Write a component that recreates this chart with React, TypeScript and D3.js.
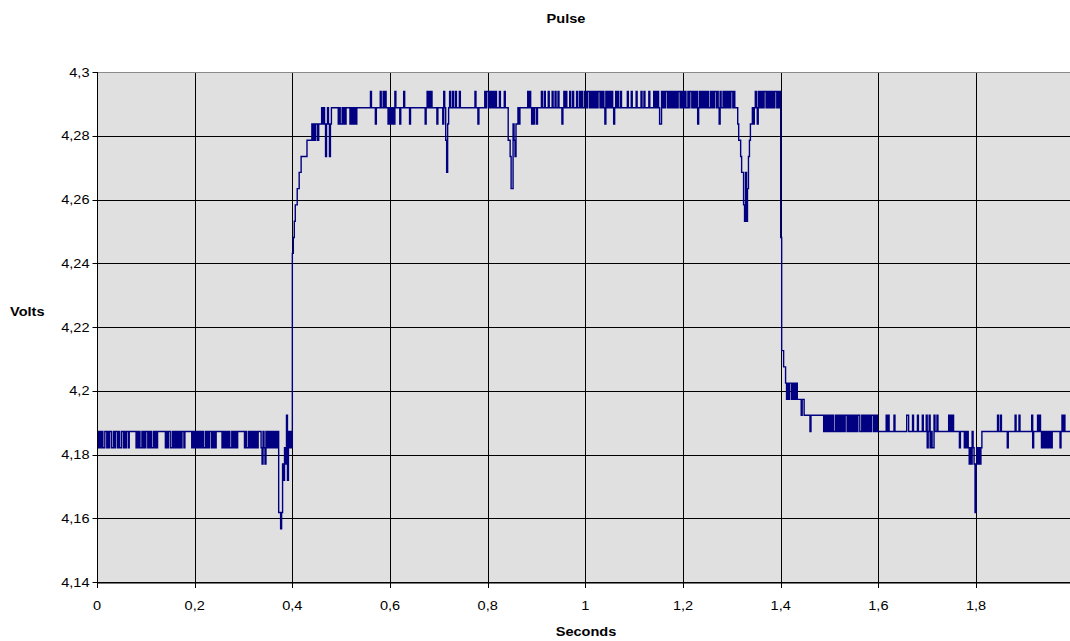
import React from 'react';
import * as d3 from 'd3';

const titleText = 'Pulse';
const xAxisTitle = 'Seconds';
const yAxisTitle = 'Volts';

const xTicks = [0, 0.2, 0.4, 0.6, 0.8, 1, 1.2, 1.4, 1.6, 1.8, 2];
const yTicks = [4.14, 4.16, 4.18, 4.2, 4.22, 4.24, 4.26, 4.28, 4.3];

// quantised voltage levels of the trace, indexed by base-36 code (0..r)
const levelVolts = [
  4.1567, 4.1618, 4.1669, 4.1719, 4.177, 4.1821, 4.1872, 4.1923, 4.1973, 4.2024,
  4.2075, 4.2126, 4.2177, 4.2227, 4.2278, 4.2329, 4.238, 4.2431, 4.2481, 4.2532,
  4.2583, 4.2634, 4.2685, 4.2735, 4.2786, 4.2837, 4.2888, 4.2939,
];

const sampleSeconds = 0.002;
const segmentSeconds = 0.2;

// samples, one array per 0.2 s grid cell, one code per 2 ms
const trace0 = ['5656565566', '5656655656', '6565566565', '6656666666', '5656556565', '6656565565', '6566666666', '5656655656', '5656565665', '6666666565'];
const trace1 = ['6565656565', '5656566565', '6566666656', '5656565565', '6565666666', '6565565656', '5656566654', '6546565656', '5656561101', '4354736565'];
const trace2 = ['hijkkllmmn', 'nnnnnooooo', 'popoppoppp', 'qpqpnpqpnp', 'qqqqqqqpqp', 'pqpqpqqqqp', 'qpqpqpqqqq', 'qqqqqqqqqq', 'rqqqqpqqqq', 'rqqrqrqqpq'];
const trace3 = ['pqpqprqqqq', 'pqqqrqqqqq', 'pqqqqqqqqq', 'qqqqqqpqrq', 'rqrqqqqqpq', 'qqqqprqomp', 'qrqqrqqrqq', 'qrqqqqqqqq', 'qqqqqqqrqq', 'pqqqqqqrqr'];
const trace4 = ['rqrqrqrqrq', 'qqrqqqqrqq', 'qoonllponp', 'pqpqqqqqqq', 'qrqrqpqpqq', 'pqqqqrqqrq', 'qqrqqqrqqr', 'qqrqqqpqrq', 'rqqqrqqrqq', 'qrqqrqrqqr'];
const trace5 = ['rqrrqrqrqr', 'qrqrrqrqrq', 'prqrqrqrqp', 'qrqrqqrqqq', 'qqqrqqqrqq', 'qqrqqqqrqq', 'rqqqqrqqqq', 'rqrqrqpprq', 'rqrrqrqrqr', 'qrqrqrrqrq'];
const trace6 = ['rqrqqrqrrq', 'rqrqrpqrqr', 'qrqrqrqqrq', 'rqrrqrqprq', 'qrqrqrqrqr', 'rqrqqqpoon', 'mmkjmjlnop', 'pqpqrqprqr', 'qrqrrqrqrq', 'rqrqrrqrqr'];
const trace7 = ['ibbaa98989', '9898989888', '8788777777', '6777777777', '7777676767', '6767667676', '7676767767', '6767676767', '7667676767', '6767767676'];
const trace8 = ['6666666676', '7666667666', '6666666667', '7666676666', '7666676667', '5675655766', '7666666666', '6676767666', '6665666656', '5654546541'];
const trace9 = ['4545456666', '6666666666', '6676676666', '6656666666', '7666766666', '6666666756', '6667676565', '6565656566', '6666665676', '7666666666'];

const traces = [trace0, trace1, trace2, trace3, trace4, trace5, trace6, trace7, trace8, trace9];

const W = 1070;
const H = 641;
const plotLeft = 97;
const plotRight = 1073.7;
const plotTop = 72;
const plotBottom = 582;

const lineColor = '#000080';
const plotBg = '#e0e0e0';
const font = '"Liberation Sans", Arial, sans-serif';

const fmt = (v: number) => String(+v.toFixed(2)).replace('.', ',');

function buildPoints(): [number, number][] {
  const pts: [number, number][] = [];
  traces.forEach((seg, s) => {
    const codes = seg.join('');
    for (let i = 0; i < codes.length; i++) {
      pts.push([s * segmentSeconds + i * sampleSeconds, levelVolts[parseInt(codes[i], 36)]]);
    }
  });
  pts.push([2, pts[pts.length - 1][1]]);
  return pts;
}

export default function App() {
  const xs = d3.scaleLinear().domain([0, 2]).range([plotLeft, plotRight]);
  const ys = d3.scaleLinear().domain([4.14, 4.3]).range([plotBottom, plotTop]);
  const px = (v: number) => Math.round(xs(v)) + 0.5;
  const py = (v: number) => Math.round(ys(v)) + 0.5;

  const pts = buildPoints();
  const line = d3
    .line<[number, number]>()
    .x((d) => xs(d[0]))
    .y((d) => ys(d[1]))
    .curve(d3.curveStepAfter);

  const sx = 1.12;
  const T = (x: number, y: number, txt: string, anchor: string, size: number, bold = false, key?: string) => (
    <text
      key={key}
      transform={`translate(${x},${y}) scale(${sx},1)`}
      textAnchor={anchor as any}
      fontFamily={font}
      fontSize={size}
      fontWeight={bold ? 'bold' : 'normal'}
      fill="#000"
    >
      {txt}
    </text>
  );

  return (
    <svg
      width={W}
      height={H}
      style={{ position: 'absolute', left: 0, top: 0, display: 'block', background: '#fff' }}
    >
      <rect x={plotLeft} y={plotTop} width={plotRight - plotLeft + 5} height={plotBottom - plotTop} fill={plotBg} />
      {/* vertical grid */}
      {xTicks.slice(1).map((t) => (
        <line key={'vg' + t} x1={px(t)} x2={px(t)} y1={plotTop} y2={plotBottom} stroke="#000" strokeWidth={1} />
      ))}
      {/* horizontal grid */}
      {yTicks.slice(1, -1).map((v) => (
        <line key={'hg' + v} x1={plotLeft} x2={W} y1={py(v)} y2={py(v)} stroke="#000" strokeWidth={1} />
      ))}
      <line x1={plotLeft} x2={W} y1={py(4.3)} y2={py(4.3)} stroke="#8a8a8a" strokeWidth={1} />
      {/* data */}
      <path d={line(pts) || ''} fill="none" stroke={lineColor} strokeWidth={1.4} />
      {/* axes */}
      <line x1={px(0)} x2={px(0)} y1={plotTop} y2={plotBottom + 1} stroke="#000" strokeWidth={1} />
      <line x1={plotLeft} x2={W} y1={py(4.14)} y2={py(4.14)} stroke="#000" strokeWidth={1} />
      <line x1={plotLeft} x2={W} y1={py(4.14) + 1} y2={py(4.14) + 1} stroke="#777" strokeWidth={1} />
      {yTicks.map((v) => (
        <line key={'yt' + v} x1={px(0) - 5} x2={px(0)} y1={py(v)} y2={py(v)} stroke="#000" strokeWidth={1} />
      ))}
      {xTicks.map((t) => (
        <line key={'xt' + t} x1={px(t)} x2={px(t)} y1={plotBottom} y2={plotBottom + 6} stroke="#000" strokeWidth={1} />
      ))}
      {yTicks.map((v) => T(px(0) - 8, ys(v) + 4.5, fmt(v), 'end', 13, false, 'yl' + v))}
      {xTicks.map((t) => T(xs(t), 610, fmt(t), 'middle', 13, false, 'xl' + t))}
      {T(566, 23, titleText, 'middle', 13, true)}
      {T(586, 636, xAxisTitle, 'middle', 13, true)}
      {T(10, 316, yAxisTitle, 'start', 13, true)}
    </svg>
  );
}
